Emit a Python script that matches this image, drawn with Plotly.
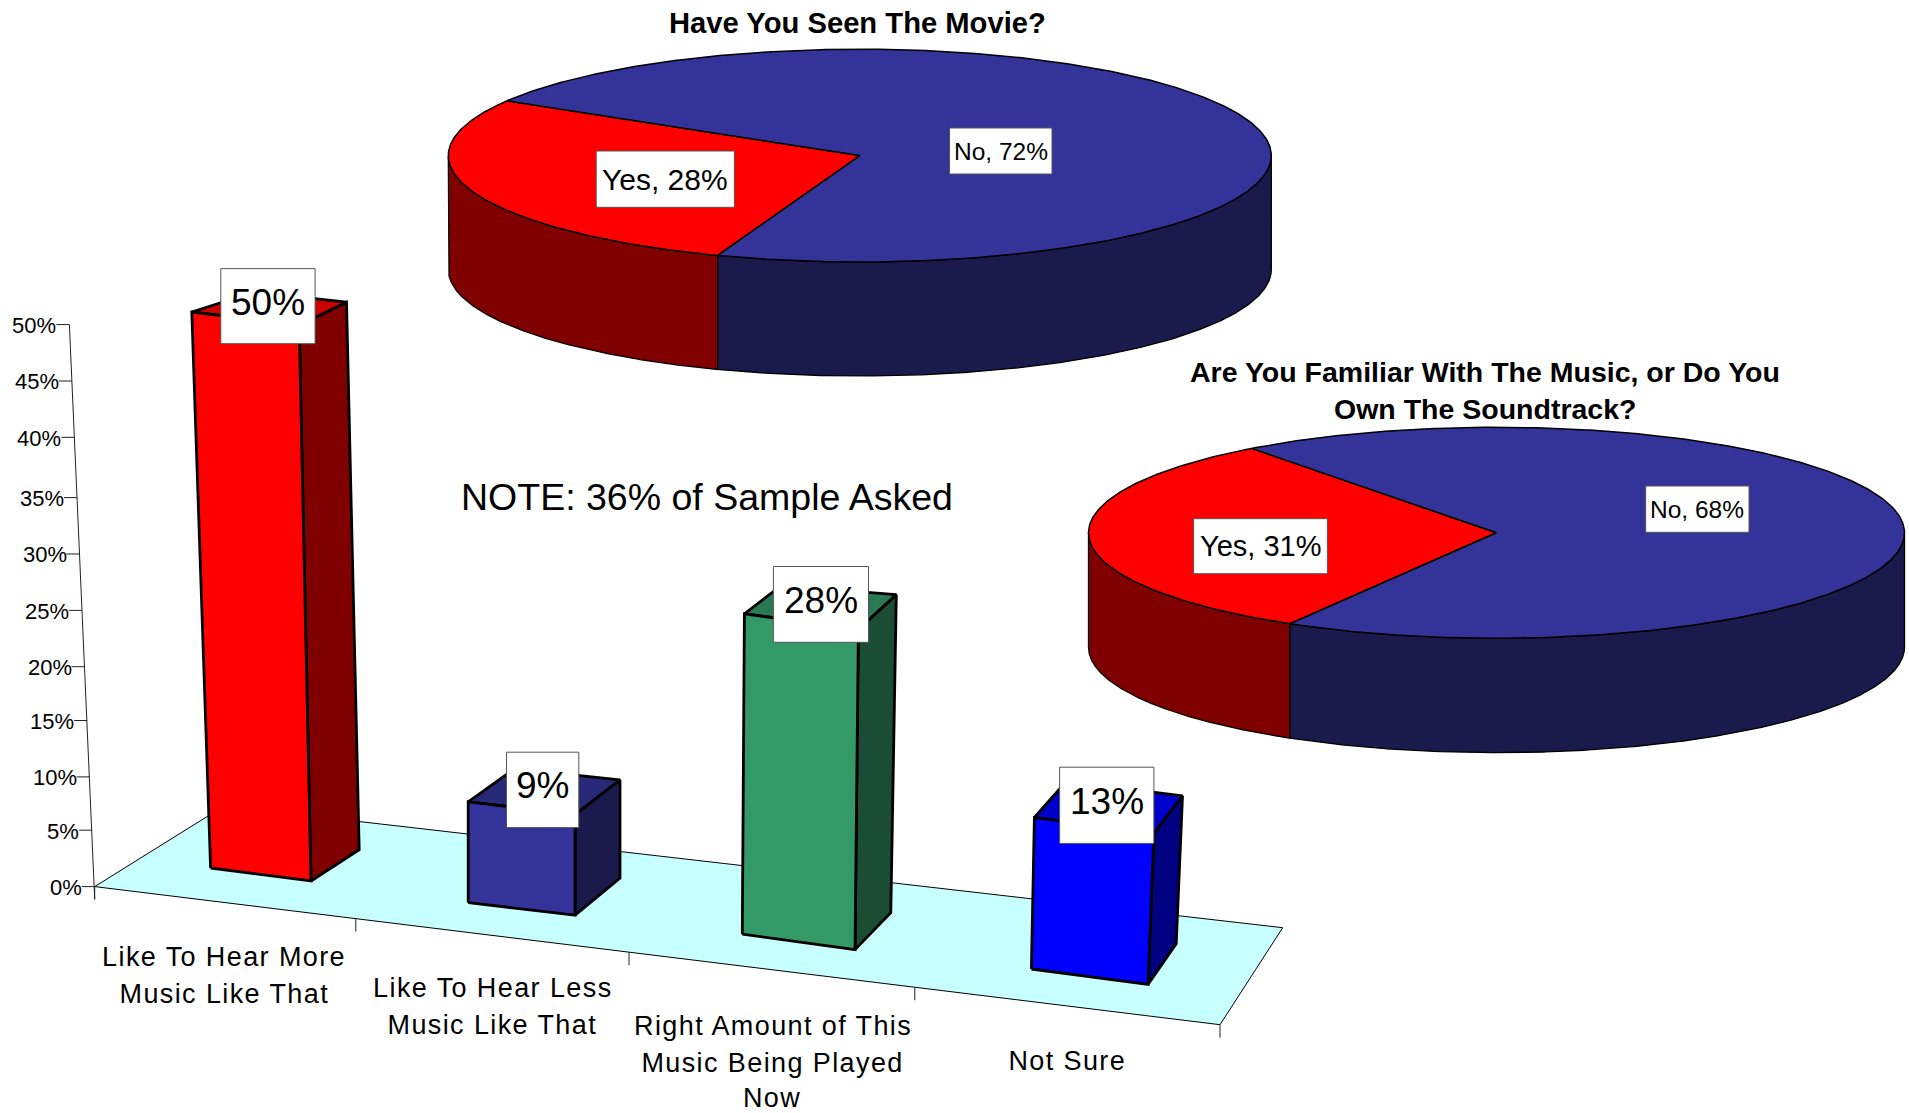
import numpy as np
import plotly.graph_objects as go

# ---------- data ----------
categories = ["Like To Hear More<br>Music Like That",
              "Like To Hear Less<br>Music Like That",
              "Right Amount of This<br>Music Being Played<br>Now",
              "Not Sure"]
bar_values = [50, 9, 28, 13]
axis_ticks = [0, 5, 10, 15, 20, 25, 30, 35, 40, 45, 50]

pie1_title = "Have You Seen The Movie?"
pie1_labels = ["Yes", "No"]
pie1_values = [28, 72]

pie2_title = "Are You Familiar With The Music, or Do You<br>Own The Soundtrack?"
pie2_labels = ["Yes", "No"]
pie2_values = [31, 68]

note_text = "NOTE: 36% of Sample Asked"

# ---------- styles ----------
FONT = "Liberation Sans"
bar_front = ["#FF0000", "#333399", "#339966", "#0000FF"]
bar_top = ["#CC0000", "#29297A", "#297A52", "#0000CC"]
bar_side = ["#800000", "#1A1A4D", "#1A4D33", "#000080"]
FLOOR = "#C8FFFF"
PIE_TOP = ["#FF0000", "#333399"]
PIE_WALL = ["#800000", "#1A1A4D"]

# ---------- 3-D projection of the bar chart ----------
# every corner: floor position (x, y), then screen shift per percentage point (dx, dy)
bar_corners = [
    dict(fl=(210.6, 868.0, -.376, 11.12), fr=(311.0, 881.0, -.236, 11.12),
         br=(359.2, 849.7, -.254, 10.95), bl=(267.3, 839.5, -.254, 10.95)),
    dict(fl=(468.2, 902.6, 0.0, 11.2), fr=(575.1, 915.2, 0.0, 11.2),
         br=(620.0, 878.0, 0.0, 10.9), bl=(514.4, 866.9, 0.0, 10.9)),
    dict(fl=(742.3, 934.2, .075, 11.44), fr=(855.0, 949.6, .121, 11.44),
         br=(890.8, 912.7, .196, 11.36), bl=(775.5, 903.8, .196, 11.36)),
    dict(fl=(1031.4, 969.0, .23, 11.65), fr=(1148.0, 984.5, .454, 11.65),
         br=(1176.2, 943.9, .485, 11.38), bl=(1060.1, 929.2, .485, 11.38)),
]
# value-label box: x0, x1, y0, y1
label_boxes = [(220.8, 315.1, 268.6, 343.7), (506.5, 578.8, 752.2, 827.6),
               (773.4, 868.5, 566.5, 642.3), (1059.6, 1153.9, 767.2, 843.4)]
pie_label_boxes = [(596.2, 734.4, 151.0, 207.3), (949.5, 1052.0, 128.0, 174.0),
                   (1193.6, 1327.4, 518.7, 573.7), (1645.7, 1749.0, 486.0, 532.3)]

floor_x = [94.7, 224.0, 1282.7, 1220.0]
floor_y = [886.6, 806.0, 927.7, 1024.7]
cat_tick_x = [94.7, 355.8, 629.0, 914.8, 1220.0]
cat_label_x = [224.0, 492.5, 772.5, 1067.6]
cat_label_y = [956.5, 987.7, 1025.8, 1060.6]
CAT_GAP = 37.2

# where each tick of the receding value axis falls on screen
axis_screen_y = [886.6, 830.2, 776.9, 720.5, 666.7, 610.4, 554.0, 497.6, 437.3, 381.0, 324.6]


def axis_xy(v):
    """Screen point of a value on the receding value axis."""
    return 94.7 - 25.3 * v / 50, float(np.interp(v, axis_ticks, axis_screen_y))


def top_of(c, v):
    x, y, dx, dy = c
    return x + dx * v, y - dy * v


fig = go.Figure()


def poly(xs, ys, fill=None, color="black", width=1.0):
    fig.add_trace(go.Scatter(
        x=list(xs), y=list(ys), mode="lines",
        fill="toself" if fill else None, fillcolor=fill,
        line=dict(color=color, width=width), hoverinfo="skip", showlegend=False))


# floor
poly(floor_x + floor_x[:1], floor_y + floor_y[:1], FLOOR, "black", 1.0)
fy = lambda x: floor_y[0] + (floor_y[3] - floor_y[0]) * (x - floor_x[0]) / (floor_x[3] - floor_x[0])
for x in cat_tick_x:
    poly([x, x], [fy(x), fy(x) + 13], None, "#222222", 1.0)

# value axis
ax0, ay0 = axis_xy(0)
ax1, ay1 = axis_xy(50)
poly([ax1, ax0, ax0], [ay1, ay0, ay0 + 12.5], None, "#222222", 1.0)
for t in axis_ticks:
    x, y = axis_xy(t)
    poly([x - 13, x], [y, y], None, "#222222", 1.0)

# bars
for i, v in enumerate(bar_values):
    c = bar_corners[i]
    bfl, bfr, bbr = c["fl"][:2], c["fr"][:2], c["br"][:2]
    tfl, tfr, tbr, tbl = (top_of(c[k], v) for k in ("fl", "fr", "br", "bl"))
    poly([bfr[0], bbr[0], tbr[0], tfr[0], bfr[0]], [bfr[1], bbr[1], tbr[1], tfr[1], bfr[1]],
         bar_side[i], "black", 2.8)
    poly([tfl[0], tfr[0], tbr[0], tbl[0], tfl[0]], [tfl[1], tfr[1], tbr[1], tbl[1], tfl[1]],
         bar_top[i], "black", 2.8)
    poly([bfl[0], bfr[0], tfr[0], tfl[0], bfl[0]], [bfl[1], bfr[1], tfr[1], tfl[1], bfl[1]],
         bar_front[i], "black", 2.8)


# pies
def pie3d(values, cx, cy, rx, ry, depth, start):
    total = sum(values)
    spans = [360.0 * val / total for val in values]
    a0 = start
    for k, span in enumerate(spans):
        a1 = a0 + span
        # side wall: only the front half (sin >= 0) is visible
        vis = np.radians(np.linspace(a0, a1, 1441))
        vis = vis[np.sin(vis) >= 0]
        if len(vis):
            deg = np.degrees(vis) % 360
            vis = np.radians(np.sort(deg))
            wx, wy = cx + rx * np.cos(vis), cy + ry * np.sin(vis)
            poly(np.r_[wx, wx[::-1], wx[0]], np.r_[wy, wy[::-1] + depth, wy[0]],
                 PIE_WALL[k], "black", 1.3)
        a0 = a1
    a0 = start
    for k, span in enumerate(spans):
        a1 = a0 + span
        t = np.radians(np.linspace(a0, a1, max(int(span) * 2, 4)))
        ex, ey = cx + rx * np.cos(t), cy + ry * np.sin(t)
        poly(np.r_[cx, ex, cx], np.r_[cy, ey, cy], PIE_TOP[k], "black", 1.5)
        a0 = a1


pie3d(pie1_values, 859.8, 155.6, 411.5, 106.4, 114, 110.2)
pie3d(pie2_values, 1496.5, 532.8, 408.0, 105.5, 114.4, 120.4)

# ---------- text ----------
ann = []
shapes = []


def text(x, y, s, size, anchor="center", bold=False):
    ann.append(dict(x=x, y=y, xref="x", yref="y", text=f"<b>{s}</b>" if bold else s, showarrow=False,
                    xanchor=anchor, yanchor="middle", align="center",
                    font=dict(family=FONT, size=size, color="black")))


def boxed(box, s, size, dy=0.0):
    x0, x1, y0, y1 = box
    shapes.append(dict(type="rect", xref="x", yref="y", x0=x0, x1=x1, y0=y0, y1=y1, layer="above",
                       fillcolor="white", line=dict(color="#555555", width=1)))
    text((x0 + x1) / 2, (y0 + y1) / 2 + dy, s, size)


for t in axis_ticks:
    x, y = axis_xy(t)
    text(x - 11, y + 0.8, f"{t}%", 22, anchor="right")

for name, x, y in zip(categories, cat_label_x, cat_label_y):
    for j, line in enumerate(name.split("<br>")):
        text(x, min(y + j * CAT_GAP, 1097.5), line, 27)

for v, b in zip(bar_values, label_boxes):
    boxed(b, f"{v}%", 37, dy=-4.0)

text(857, 23, pie1_title, 29.2, bold=True)
for j, line in enumerate(pie2_title.split("<br>")):
    text(1484.5, 371.5 + j * 37.5, line, 28.5, bold=True)
text(706.7, 497, note_text, 37.5)

boxed(pie_label_boxes[0], f"{pie1_labels[0]}, {pie1_values[0]}%", 30, dy=0.5)
boxed(pie_label_boxes[1], f"{pie1_labels[1]}, {pie1_values[1]}%", 24.5)
boxed(pie_label_boxes[2], f"{pie2_labels[0]}, {pie2_values[0]}%", 29, dy=0.2)
boxed(pie_label_boxes[3], f"{pie2_labels[1]}, {pie2_values[1]}%", 24.5)

fig.update_layout(
    width=1909, height=1113, margin=dict(l=0, r=0, t=0, b=0, pad=0),
    paper_bgcolor="white", plot_bgcolor="white", showlegend=False, hovermode=False,
    xaxis=dict(range=[0, 1909], visible=False, fixedrange=True),
    yaxis=dict(range=[1113, 0], visible=False, fixedrange=True),
    annotations=ann, shapes=shapes,
)

post = """
document.body.style.margin='0';
document.body.style.overflow='hidden';
var names=%s;
document.querySelectorAll('.annotation-text').forEach(function(e){
  if(names.indexOf(e.textContent)>=0){e.style.letterSpacing='1.4px';}
});
""" % str([l for c in categories for l in c.split("<br>")])

fig.write_html("out.html", config=dict(displayModeBar=False), post_script=post)
